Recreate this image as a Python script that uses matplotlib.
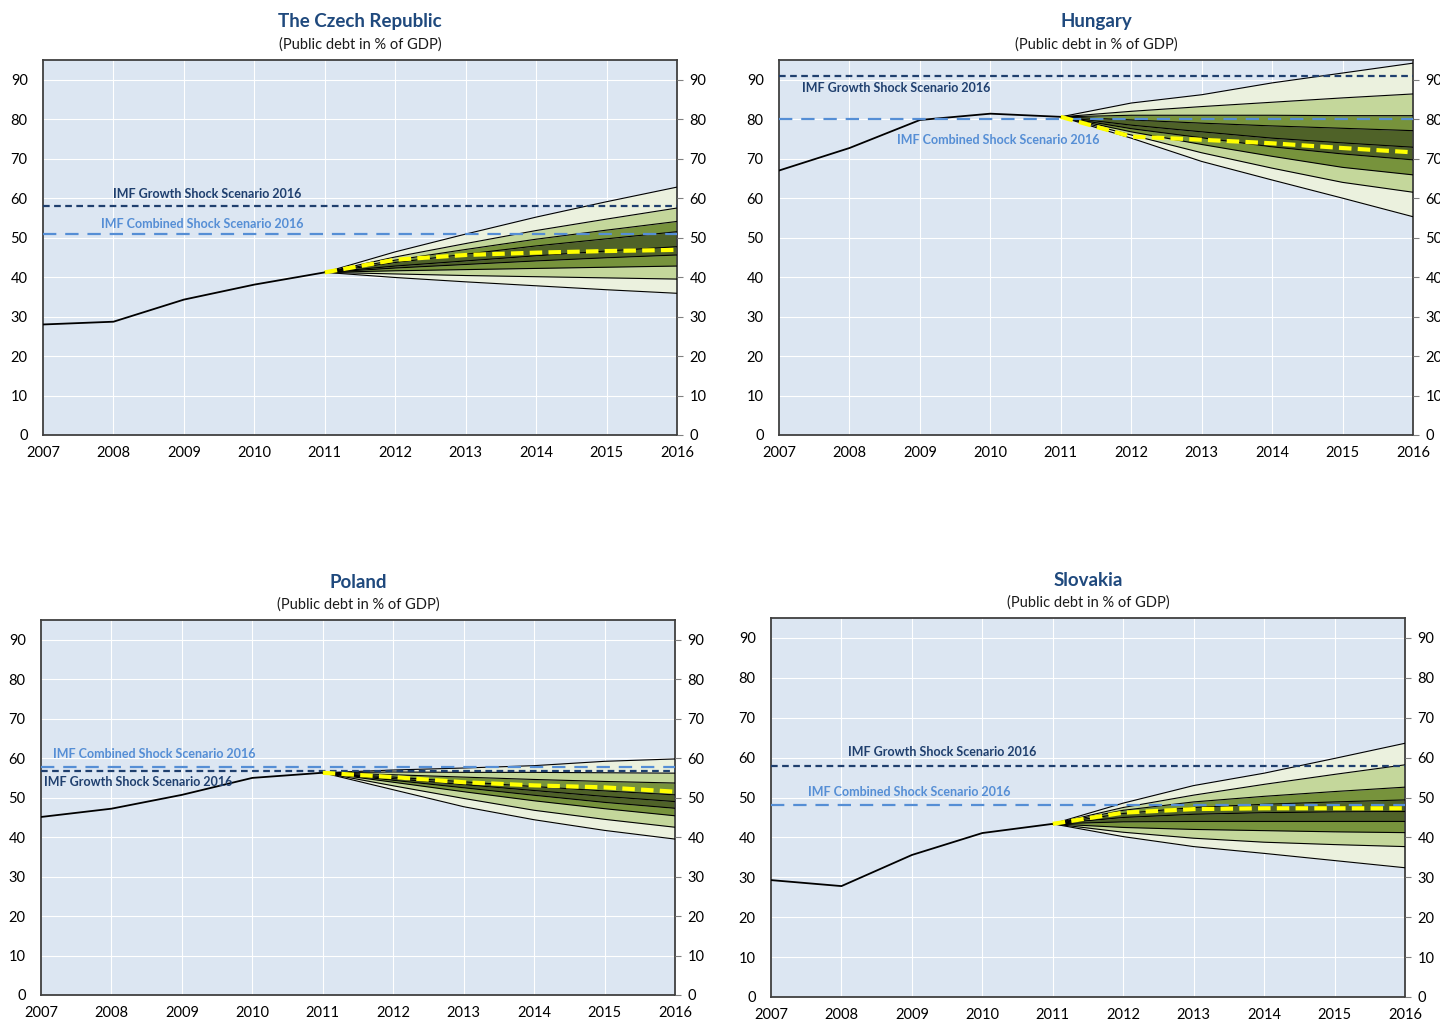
import numpy as np
import matplotlib
matplotlib.use('Agg')
import matplotlib.pyplot as plt

plt.rcParams['font.family'] = ['Lato', 'DejaVu Sans']

years_hist = [2007, 2008, 2009, 2010, 2011]
years_fc = [2011, 2012, 2013, 2014, 2015, 2016]

# Czech Republic
cz_hist = [28.0, 28.7, 34.3, 38.1, 41.2]
cz_fan = [
    [41.2, 46.4, 50.9, 55.2, 59.1, 62.8],
    [41.2, 45.1, 48.5, 51.8, 54.7, 57.5],
    [41.2, 44.3, 47.0, 49.6, 51.9, 54.1],
    [41.2, 43.7, 45.8, 47.9, 49.7, 51.5],
    [41.2, 42.8, 44.1, 45.4, 46.6, 47.7],
    [41.2, 42.3, 43.2, 44.1, 44.9, 45.6],
    [41.2, 41.6, 41.9, 42.2, 42.5, 42.8],
    [41.2, 40.8, 40.4, 40.1, 39.8, 39.5],
    [41.2, 39.9, 38.8, 37.8, 36.8, 35.9],
]
cz_base = [41.2, 44.4, 45.6, 46.2, 46.6, 46.9]
cz_growth = 58.0
cz_combined = 51.0

# Hungary
hu_hist = [67.0, 72.7, 79.8, 81.4, 80.6]
hu_fan = [
    [80.6, 84.1, 86.2, 89.2, 91.7, 94.2],
    [80.6, 82.0, 83.2, 84.3, 85.4, 86.4],
    [80.6, 81.0, 81.0, 81.0, 80.9, 80.9],
    [80.6, 79.8, 79.0, 78.3, 77.7, 77.1],
    [80.6, 78.5, 76.8, 75.2, 74.0, 72.9],
    [80.6, 77.6, 75.3, 73.0, 71.2, 69.7],
    [80.6, 76.8, 73.6, 70.6, 67.8, 65.9],
    [80.6, 76.0, 71.5, 67.6, 64.0, 61.5],
    [80.6, 75.2, 69.3, 64.6, 60.0, 55.3],
]
hu_base = [80.6, 75.6, 74.8, 73.9, 72.7, 71.6]
hu_growth = 91.0
hu_combined = 80.1

# Poland
pl_hist = [45.1, 47.2, 50.7, 55.0, 56.3]
pl_fan = [
    [56.3, 57.0, 57.5, 58.1, 59.2, 59.8],
    [56.3, 56.5, 56.4, 56.4, 56.3, 56.2],
    [56.3, 55.8, 55.2, 54.6, 54.1, 53.7],
    [56.3, 55.2, 54.0, 52.8, 51.7, 50.7],
    [56.3, 54.8, 53.3, 51.8, 50.3, 49.0],
    [56.3, 54.4, 52.5, 50.6, 48.8, 47.3],
    [56.3, 53.9, 51.5, 49.2, 47.2, 45.4],
    [56.3, 53.0, 49.8, 46.8, 44.5, 42.5],
    [56.3, 52.0, 47.7, 44.4, 41.7, 39.5],
]
pl_base = [56.3, 55.2, 53.9, 53.1, 52.6, 51.5]
pl_growth = 56.8
pl_combined = 57.8

# Slovakia
sk_hist = [29.3, 27.8, 35.6, 41.1, 43.4]
sk_fan = [
    [43.4, 48.6, 53.0, 56.1, 59.8, 63.6],
    [43.4, 47.5, 50.6, 53.3, 55.8, 58.2],
    [43.4, 46.8, 48.9, 50.3, 51.5, 52.6],
    [43.4, 46.0, 47.5, 48.3, 48.9, 49.4],
    [43.4, 45.0, 45.8, 46.2, 46.4, 46.5],
    [43.4, 43.9, 44.0, 44.0, 44.0, 44.0],
    [43.4, 42.5, 42.0, 41.7, 41.4, 41.2],
    [43.4, 41.3, 39.8, 38.8, 38.2, 37.7],
    [43.4, 40.2, 37.7, 36.0, 34.2, 32.4],
]
sk_base = [43.4, 46.2, 47.1, 47.3, 47.3, 47.3]
sk_growth = 57.9
sk_combined = 48.1

band_colors = ['#EBF1DE', '#C4D79B', '#77933C', '#4F6228',
               '#4F6228', '#77933C', '#C4D79B', '#EBF1DE']
bg = '#DCE6F2'
title_col = '#1F497D'
growth_col = '#1F3F6E'
combined_col = '#558ED5'

fig = plt.figure(figsize=(14.4, 10.23), dpi=100)


def panel(rect, title, hist, fan, base, growth, combined,
          growth_lab, combined_lab, title_y):
    ax = fig.add_axes(rect)
    ax.set_facecolor(bg)
    for y in range(10, 100, 10):
        ax.axhline(y, color='white', lw=0.8, zorder=1)
    for x in range(2008, 2016):
        ax.axvline(x, color='white', lw=0.8, zorder=1)

    for i in range(8):
        ax.fill_between(years_fc, fan[i], fan[i + 1], color=band_colors[i],
                        lw=0, zorder=2)
    for line in fan:
        ax.plot(years_fc, line, color='black', lw=0.8, zorder=3)
    ax.plot(years_hist, hist, color='black', lw=1.3, zorder=3)

    ax.axhline(growth, color=growth_col, lw=1.6, ls=(0, (3, 2)), zorder=4)
    ax.axhline(combined, color=combined_col, lw=1.6, ls=(0, (6, 4)), zorder=4)
    ax.plot(years_fc, base, color='#FFFF00', lw=3, ls=(0, (3, 1.5)), zorder=5)

    # scenario labels (x in years, y in data units)
    ax.text(growth_lab[0], growth_lab[1], 'IMF Growth Shock Scenario 2016',
            color=growth_col, fontsize=9, fontweight='bold', va='center', zorder=6)
    ax.text(combined_lab[0], combined_lab[1], 'IMF Combined Shock Scenario 2016',
            color=combined_col, fontsize=9, fontweight='bold', va='center', zorder=6)

    ax.set_xlim(2007, 2016)
    ax.set_ylim(0, 95)
    ax.set_xticks(range(2007, 2017))
    ax.set_yticks(range(0, 100, 10))
    ax.tick_params(axis='x', length=0, pad=8, labelsize=10.5)
    ax.tick_params(axis='y', length=0, pad=11, labelsize=10.5)
    for s in ax.spines.values():
        s.set_color('#404040')
        s.set_linewidth(1.3)

    ax2 = ax.twinx()
    ax2.set_ylim(0, 95)
    ax2.set_yticks(range(0, 100, 10))
    ax2.tick_params(axis='y', length=4, color='#808080', pad=5, labelsize=10.5)
    for s in ax2.spines.values():
        s.set_visible(False)

    cx = rect[0] + rect[2] / 2
    fig.text(cx, title_y, title, ha='center', va='center', fontsize=13.5,
             fontweight='bold', color=title_col)
    fig.text(cx, title_y - 0.0225, '(Public debt in % of GDP)', ha='center',
             va='center', fontsize=10.5, color='#1a1a1a')
    return ax


W = 634 / 1440
H = 375 / 1023

panel([43 / 1440, (1023 - 435) / 1023, W, H], 'The Czech Republic',
      cz_hist, cz_fan, cz_base, cz_growth, cz_combined,
      (2008.0, 61.0), (2007.83, 53.5), 1 - 22 / 1023)
panel([779 / 1440, (1023 - 435) / 1023, W, H], 'Hungary',
      hu_hist, hu_fan, hu_base, hu_growth, hu_combined,
      (2007.33, 87.8), (2008.68, 74.8), 1 - 22 / 1023)
panel([41 / 1440, (1023 - 995) / 1023, W, H], 'Poland',
      pl_hist, pl_fan, pl_base, pl_growth, pl_combined,
      (2007.04, 54.0), (2007.17, 61.0), 1 - 582 / 1023)
panel([771 / 1440, (1023 - 997) / 1023, W, 379 / 1023], 'Slovakia',
      sk_hist, sk_fan, sk_base, sk_growth, sk_combined,
      (2008.1, 61.5), (2007.53, 51.5), 1 - 580 / 1023)

fig.savefig('out.png', dpi=100)
